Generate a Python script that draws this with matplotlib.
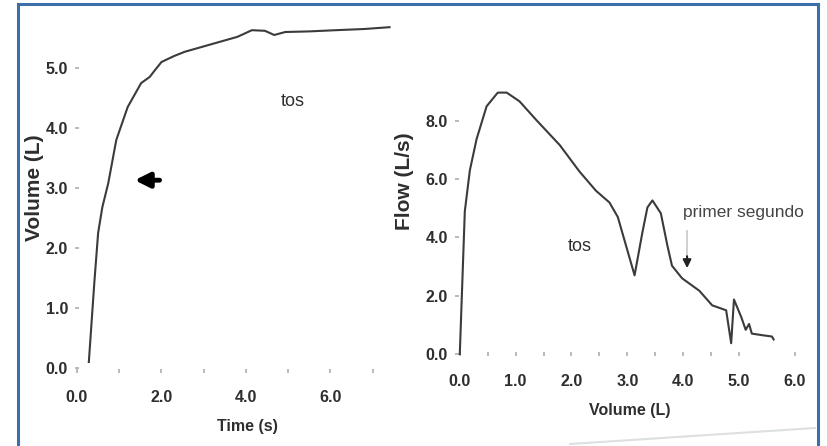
import matplotlib
matplotlib.use("Agg")
import matplotlib.pyplot as plt
from matplotlib.lines import Line2D

plt.rcParams['font.family'] = ['Liberation Sans', 'DejaVu Sans']

# Volume-time curve
time_s = [0.28, 0.41, 0.50, 0.60, 0.74, 0.93, 1.20, 1.52, 1.72, 1.83, 2.00, 2.30,
          2.55, 3.00, 3.35, 3.80, 4.14, 4.45, 4.67, 4.93, 5.50, 6.12, 6.80, 7.40]
volume_l = [0.10, 1.42, 2.25, 2.68, 3.08, 3.80, 4.35, 4.75, 4.85, 4.95, 5.10, 5.20,
            5.27, 5.36, 5.43, 5.52, 5.63, 5.62, 5.55, 5.60, 5.61, 5.63, 5.65, 5.68]

# Flow-volume curve
fv_volume = [0.00, 0.09, 0.18, 0.30, 0.48, 0.68, 0.84, 1.07, 1.37, 1.79, 2.14, 2.44,
             2.68, 2.83, 2.98, 3.13, 3.27, 3.36, 3.45, 3.60, 3.72, 3.80, 3.98, 4.29,
             4.52, 4.77, 4.86, 4.91, 5.04, 5.12, 5.18, 5.23, 5.40, 5.59, 5.62]
fv_flow = [0.00, 4.90, 6.30, 7.37, 8.50, 8.97, 8.97, 8.67, 8.03, 7.17, 6.27, 5.60,
           5.20, 4.70, 3.70, 2.70, 4.17, 5.03, 5.27, 4.83, 3.70, 3.03, 2.60, 2.17,
           1.67, 1.50, 0.37, 1.87, 1.27, 0.83, 1.03, 0.70, 0.65, 0.60, 0.50]

vt_xticks = [0, 2, 4, 6]
vt_xlabels = ['0.0', '2.0', '4.0', '6.0']
vt_yticks = [0, 1, 2, 3, 4, 5]
vt_ylabels = ['0.0', '1.0', '2.0', '3.0', '4.0', '5.0']

fv_xticks = [0, 1, 2, 3, 4, 5, 6]
fv_xlabels = ['0.0', '1.0', '2.0', '3.0', '4.0', '5.0', '6.0']
fv_yticks = [0, 2, 4, 6, 8]
fv_ylabels = ['0.0', '2.0', '4.0', '6.0', '8.0']

W, H = 827, 446
fig = plt.figure(figsize=(W / 100, H / 100), dpi=100)
fig.patch.set_facecolor('white')

line_c = '#3b3b3b'
text_c = '#2e2e2e'
tick_c = '#a7b0b8'


def px_axes(x0, x1, y_top, y_bot):
    return fig.add_axes([x0 / W, 1 - y_bot / H, (x1 - x0) / W, (y_bot - y_top) / H])


def px_text(x, y, s, **kw):
    fig.text(x / W, 1 - y / H, s, ha='center', va='center', color=text_c, **kw)


def style(ax):
    for s in ax.spines.values():
        s.set_visible(False)
    ax.tick_params(axis='both', which='both', colors=tick_c, labelcolor=text_c,
                   labelsize=11.5, length=3, width=1.2, direction='inout')
    ax.tick_params(axis='x', pad=12)
    ax.tick_params(axis='y', pad=5)


# Left: volume vs time
ax1 = px_axes(77, 398, 11, 371)
ax1.plot(time_s, volume_l, color=line_c, lw=1.5, clip_on=False)
ax1.set_xlim(0, 7.6)
ax1.set_ylim(-0.05, 5.95)
ax1.set_xticks(vt_xticks)
ax1.set_xticklabels(vt_xlabels, fontweight='bold')
ax1.set_xticks([1, 3, 5, 7], minor=True)
ax1.set_yticks(vt_yticks)
ax1.set_yticklabels(vt_ylabels, fontweight='bold')
style(ax1)
px_text(247, 427, 'Time (s)', fontsize=11.5, fontweight='bold')
px_text(34, 188, 'Volume (L)', fontsize=15, fontweight='bold', rotation=90)
ax1.text(5.1, 4.45, 'tos', fontsize=13, color=text_c, ha='center', va='center')
ax1.annotate('', xy=(1.3, 3.13), xytext=(2.02, 3.13),
             arrowprops=dict(arrowstyle='-|>', lw=3.5, color='black', mutation_scale=22))

# Right: flow vs volume
ax2 = px_axes(457, 806, 83, 354)
ax2.plot(fv_volume, fv_flow, color=line_c, lw=1.5, clip_on=False)
ax2.set_xlim(-0.05, 6.2)
ax2.set_ylim(0.13, 9.3)
ax2.set_xticks(fv_xticks)
ax2.set_xticklabels(fv_xlabels, fontweight='bold')
ax2.set_xticks([0.5, 1.5, 2.5, 3.5, 4.5], minor=True)
ax2.set_yticks(fv_yticks)
ax2.set_yticklabels(fv_ylabels, fontweight='bold')
style(ax2)
ax2.tick_params(axis='x', pad=13)
px_text(630, 410, 'Volume (L)', fontsize=11.5, fontweight='bold')
px_text(405, 181, 'Flow (L/s)', fontsize=15, fontweight='bold', rotation=90)
ax2.text(2.14, 3.7, 'tos', fontsize=13, color=text_c, ha='center', va='center')
ax2.text(4.0, 4.85, 'primer segundo', fontsize=12.5, color='#444444', ha='left', va='center')
ax2.plot([4.07, 4.07], [4.22, 3.35], color='#c8c8c8', lw=1.2)
ax2.annotate('', xy=(4.07, 2.85), xytext=(4.07, 3.45),
             arrowprops=dict(arrowstyle='-|>', lw=1.5, color='#222222', mutation_scale=12))

# scanned page frame
frame_c = '#3c6ea9'
fig.add_artist(Line2D([18 / W, 18 / W], [0, 1 - 4 / H], color=frame_c, lw=2.2))
fig.add_artist(Line2D([18 / W, 818 / W], [1 - 4 / H, 1 - 4 / H], color=frame_c, lw=2.2))
fig.add_artist(Line2D([818 / W, 818 / W], [0, 1 - 4 / H], color=frame_c, lw=2.2))
fig.add_artist(Line2D([570 / W, 815 / W], [1 - 444 / H, 1 - 428 / H], color='#dde0e0', lw=1.5))

fig.savefig('out.png', dpi=100, facecolor='white')
